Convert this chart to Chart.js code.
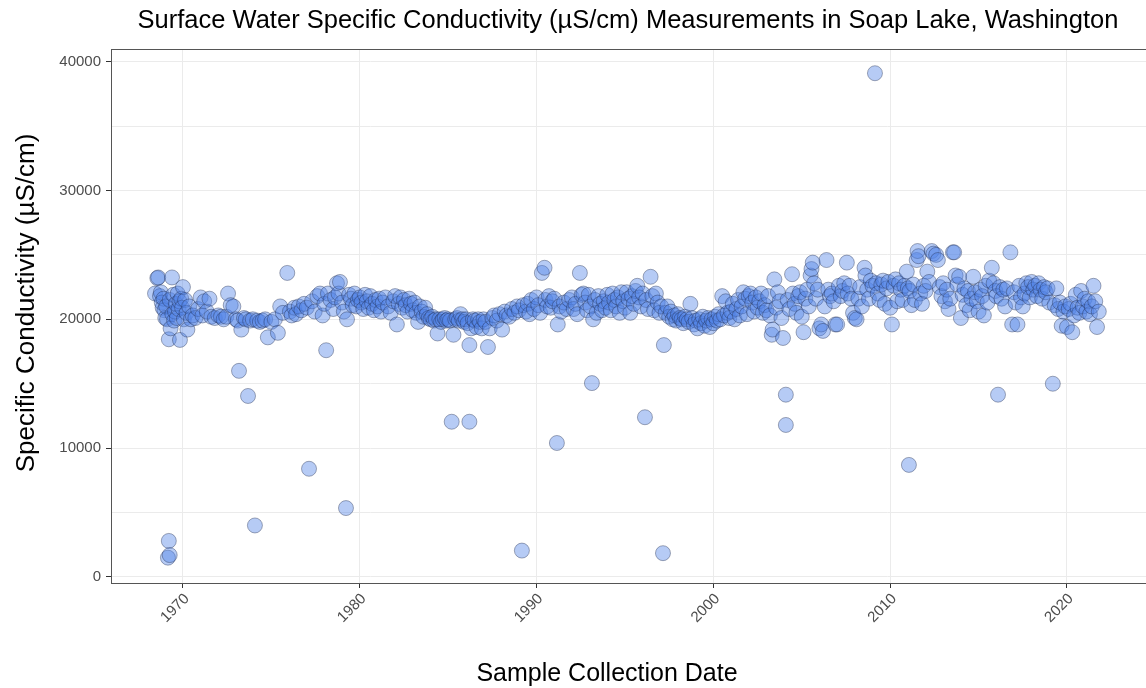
<!DOCTYPE html>
<html>
<head>
<meta charset="utf-8">
<script src="https://cdn.jsdelivr.net/npm/chart.js@4.4.1/dist/chart.umd.min.js"></script>
<style>
  html, body { margin: 0; padding: 0; background: #fff; }
  #wrap { width: 1146px; height: 688px; }
</style>
</head>
<body>
<div id="wrap"><canvas id="chart" width="1146" height="688"></canvas></div>
<script>
'use strict';

const TITLE   = 'Surface Water Specific Conductivity (µS/cm) Measurements in Soap Lake, Washington';
const X_TITLE = 'Sample Collection Date';
const Y_TITLE = 'Specific Conductivity (µS/cm)';

const X_TICKS = [1970, 1980, 1990, 2000, 2010, 2020];
const Y_TICKS = [0, 5000, 10000, 15000, 20000, 25000, 30000, 35000, 40000];

/* ── sample dates (decimal year) and conductivity, one pair of lists per decade ── */
const years1960s = [1968.42, 1968.55, 1968.60, 1968.70, 1968.75, 1968.80, 1968.85, 1968.90, 1968.95, 1969.00,
  1969.05, 1969.10, 1969.15, 1969.20, 1969.20, 1969.25, 1969.25, 1969.30, 1969.38, 1969.40,
  1969.45, 1969.50, 1969.55, 1969.60, 1969.65, 1969.70, 1969.75, 1969.80, 1969.83, 1969.90, 1969.95];
const cond1960s  = [22000, 23200, 23250, 21800, 22100, 21300, 20900, 21600, 20700, 20100,
  21000, 20000, 1500, 2800, 18450, 1700, 21500, 19300, 23250, 20400,
  21900, 19900, 20600, 21200, 20100, 22000, 20800, 21400, 18400, 21600, 20900];

const years1970s = [1970.00, 1970.05, 1970.12, 1970.20, 1970.25, 1970.35, 1970.45, 1970.55, 1970.70, 1970.85,
  1971.00, 1971.10, 1971.20, 1971.35, 1971.50, 1971.60, 1971.80, 1972.00, 1972.15, 1972.30,
  1972.45, 1972.55, 1972.70, 1972.85, 1973.00, 1973.10, 1973.17, 1973.30, 1973.45, 1973.55,
  1973.68, 1973.80, 1973.95, 1974.07, 1974.20, 1974.35, 1974.50, 1974.65, 1974.80, 1975.00,
  1975.20, 1975.37, 1975.50, 1975.65, 1975.90, 1976.05, 1976.15, 1976.30, 1976.40, 1976.55,
  1976.70, 1976.85, 1977.00, 1977.13, 1977.30, 1977.45, 1977.60, 1977.75, 1977.90, 1978.00,
  1978.10, 1978.20, 1978.35, 1978.50, 1978.60, 1978.71, 1978.80, 1978.88, 1979.00, 1979.10,
  1979.22, 1979.28, 1979.40, 1979.50, 1979.60, 1979.70, 1979.80, 1979.90];
const cond1970s  = [22500, 20000, 21500, 20500, 19200, 21000, 20000, 20300, 20100, 20800,
  21700, 20300, 21400, 20600, 21600, 20200, 20100, 20300, 20200, 20000,
  20200, 22000, 21100, 21000, 20000, 19900, 16000, 19200, 20100, 20000,
  14050, 19900, 20000, 4000, 19900, 19800, 19900, 20000, 18600, 19800,
  20000, 18950, 21000, 20500, 23600, 20600, 20300, 20900, 20400, 21000,
  20700, 21200, 20900, 8400, 21400, 20600, 21800, 22000, 20300, 21200,
  17600, 22000, 21500, 20800, 21700, 22800, 22000, 22900, 21300, 20600,
  5350, 20000, 21900, 21600, 21100, 22000, 21000, 21500];

const years1980s = [1980.00, 1980.10, 1980.20, 1980.30, 1980.40, 1980.50, 1980.60, 1980.70, 1980.80, 1980.90,
  1981.00, 1981.10, 1981.20, 1981.30, 1981.45, 1981.60, 1981.75, 1981.90, 1982.00, 1982.10,
  1982.20, 1982.30, 1982.40, 1982.50, 1982.60, 1982.70, 1982.80, 1982.90, 1983.00, 1983.10,
  1983.20, 1983.30, 1983.40, 1983.50, 1983.60, 1983.70, 1983.80, 1983.90, 1984.00, 1984.10,
  1984.20, 1984.30, 1984.40, 1984.50, 1984.60, 1984.70, 1984.80, 1984.90, 1985.00, 1985.10,
  1985.20, 1985.30, 1985.40, 1985.50, 1985.60, 1985.70, 1985.80, 1985.90, 1986.00, 1986.10,
  1986.20, 1986.20, 1986.30, 1986.40, 1986.50, 1986.60, 1986.70, 1986.80, 1986.90, 1987.00,
  1987.10, 1987.25, 1987.35, 1987.50, 1987.60, 1987.75, 1987.90, 1988.05, 1988.20, 1988.30,
  1988.45, 1988.60, 1988.75, 1988.90, 1989.00, 1989.17, 1989.25, 1989.40, 1989.50, 1989.60,
  1989.70, 1989.85];
const cond1980s  = [21700, 21300, 20800, 21900, 21400, 20900, 21800, 21200, 20700, 21500,
  21000, 21600, 20600, 21300, 21700, 21000, 20500, 21400, 21800, 19600,
  21200, 21700, 20900, 21500, 21100, 20600, 21600, 21200, 20700, 21300,
  20500, 19800, 21000, 20600, 20200, 20900, 20400, 20100, 20000, 20200,
  19900, 20000, 18900, 20000, 19800, 20000, 20100, 19900, 20000, 19900,
  12050, 18800, 20000, 20100, 19900, 20400, 20000, 19800, 20000, 19700,
  18000, 12050, 19300, 20000, 19900, 19400, 20000, 19800, 19300, 20000,
  19800, 17850, 19300, 20100, 20300, 19900, 20400, 19200, 20600, 20300,
  20200, 20800, 20500, 21000, 20700, 2050, 21100, 20600, 21200, 20400,
  21500, 20800];

const years1990s = [1990.00, 1990.10, 1990.20, 1990.30, 1990.45, 1990.50, 1990.60, 1990.70, 1990.80, 1990.90,
  1991.00, 1991.15, 1991.20, 1991.30, 1991.40, 1991.55, 1991.70, 1991.85, 1992.00, 1992.10,
  1992.20, 1992.30, 1992.45, 1992.55, 1992.65, 1992.75, 1992.85, 1992.95, 1993.05, 1993.13,
  1993.20, 1993.30, 1993.40, 1993.50, 1993.60, 1993.70, 1993.80, 1993.90, 1994.00, 1994.10,
  1994.20, 1994.30, 1994.40, 1994.50, 1994.60, 1994.70, 1994.80, 1994.90, 1995.00, 1995.10,
  1995.20, 1995.30, 1995.40, 1995.50, 1995.60, 1995.70, 1995.80, 1995.90, 1996.00, 1996.13,
  1996.20, 1996.30, 1996.45, 1996.55, 1996.65, 1996.75, 1996.85, 1996.95, 1997.05, 1997.15,
  1997.20, 1997.30, 1997.40, 1997.50, 1997.60, 1997.70, 1997.80, 1997.90, 1998.00, 1998.10,
  1998.20, 1998.30, 1998.40, 1998.50, 1998.60, 1998.70, 1998.80, 1998.90, 1999.00, 1999.10,
  1999.20, 1999.30, 1999.40, 1999.50, 1999.60, 1999.70, 1999.80, 1999.90];
const cond1990s  = [21700, 21100, 20500, 23600, 24000, 21500, 21000, 21800, 20900, 21400,
  21600, 10400, 19600, 21000, 20600, 21300, 20800, 21500, 21700, 20800,
  21200, 20400, 23600, 21900, 22000, 21300, 20700, 21900, 21000, 15050,
  20000, 21500, 20500, 21800, 21200, 20700, 21400, 20900, 21900, 21300,
  20700, 22000, 21500, 21000, 21700, 20500, 22100, 21400, 20900, 22100,
  21600, 20500, 21800, 21200, 22200, 22600, 21700, 21000, 22000, 12400,
  21500, 20800, 23300, 21800, 20700, 22000, 21300, 20500, 21000, 1850,
  18000, 20500, 21000, 20200, 20600, 20000, 20300, 19900, 20400, 20100,
  20000, 19700, 20200, 20000, 19800, 21200, 20100, 19600, 19900, 19300,
  20000, 19700, 20200, 19500, 19900, 20100, 19400, 20000];

const years2000s = [2000.00, 2000.10, 2000.20, 2000.30, 2000.40, 2000.50, 2000.60, 2000.70, 2000.80, 2000.90,
  2001.00, 2001.10, 2001.20, 2001.30, 2001.40, 2001.50, 2001.60, 2001.70, 2001.80, 2001.90,
  2002.00, 2002.10, 2002.20, 2002.30, 2002.40, 2002.50, 2002.60, 2002.70, 2002.80, 2002.90,
  2003.00, 2003.10, 2003.20, 2003.30, 2003.35, 2003.45, 2003.55, 2003.65, 2003.75, 2003.85,
  2003.94, 2004.10, 2004.10, 2004.20, 2004.30, 2004.45, 2004.50, 2004.60, 2004.70, 2004.80,
  2004.90, 2005.00, 2005.10, 2005.20, 2005.30, 2005.40, 2005.50, 2005.55, 2005.62, 2005.70,
  2005.80, 2005.90, 2006.00, 2006.10, 2006.20, 2006.30, 2006.40, 2006.50, 2006.60, 2006.70,
  2006.80, 2006.90, 2007.00, 2007.10, 2007.20, 2007.30, 2007.40, 2007.55, 2007.60, 2007.70,
  2007.80, 2007.90, 2008.00, 2008.10, 2008.20, 2008.30, 2008.40, 2008.55, 2008.60, 2008.70,
  2008.80, 2008.90, 2009.00, 2009.14, 2009.20, 2009.30, 2009.40, 2009.50, 2009.60, 2009.70,
  2009.80, 2009.90];
const cond2000s  = [19700, 20200, 19900, 20400, 20000, 21800, 20300, 21400, 20500, 20100,
  20600, 21200, 20000, 20800, 21500, 20300, 21000, 22100, 21600, 20400,
  21800, 22000, 21300, 20600, 21700, 20900, 21400, 22000, 20500, 21100,
  20700, 21800, 20300, 18800, 19200, 23100, 20900, 22100, 21400, 20100,
  18550, 14150, 11800, 21500, 20800, 23500, 22000, 21200, 20500, 21800,
  22100, 20200, 19000, 21600, 22300, 21000, 23400, 23900, 24400, 22800,
  21600, 22300, 19300, 19600, 19100, 21000, 24600, 22300, 21800, 22000,
  21400, 19600, 19600, 22600, 21800, 22200, 22800, 24400, 22000, 22600,
  21600, 20500, 20100, 20000, 21600, 22500, 21000, 24000, 23400, 22300,
  21600, 23000, 22600, 39100, 22800, 22000, 21500, 22700, 23000, 21200,
  22400, 22900];

const years2010s = [2010.00, 2010.10, 2010.20, 2010.30, 2010.40, 2010.50, 2010.60, 2010.70, 2010.80, 2010.94,
  2011.00, 2011.06, 2011.10, 2011.20, 2011.30, 2011.40, 2011.50, 2011.55, 2011.60, 2011.70,
  2011.80, 2011.90, 2012.00, 2012.10, 2012.20, 2012.35, 2012.45, 2012.60, 2012.70, 2012.80,
  2012.90, 2013.00, 2013.10, 2013.20, 2013.30, 2013.40, 2013.55, 2013.62, 2013.70, 2013.80,
  2013.90, 2014.00, 2014.10, 2014.20, 2014.30, 2014.40, 2014.50, 2014.60, 2014.70, 2014.80,
  2014.90, 2015.00, 2015.10, 2015.20, 2015.30, 2015.40, 2015.50, 2015.60, 2015.75, 2015.85,
  2015.95, 2016.00, 2016.10, 2016.20, 2016.30, 2016.40, 2016.50, 2016.60, 2016.80, 2016.90,
  2017.00, 2017.10, 2017.20, 2017.30, 2017.40, 2017.50, 2017.60, 2017.70, 2017.80, 2017.90,
  2018.00, 2018.10, 2018.20, 2018.30, 2018.40, 2018.50, 2018.60, 2018.70, 2018.80, 2018.90,
  2019.00, 2019.20, 2019.30, 2019.40, 2019.50, 2019.60, 2019.70, 2019.80, 2019.90];
const cond2010s  = [20900, 19600, 22600, 23100, 21400, 22800, 22300, 21500, 22600, 23700,
  22400, 8700, 22200, 21100, 22700, 21500, 24600, 25300, 24900, 22000,
  21200, 22600, 22200, 23700, 22900, 25300, 25100, 25000, 24600, 22500,
  21800, 22800, 21400, 22300, 20800, 21600, 25200, 25200, 23400, 22700,
  23300, 20100, 21900, 22400, 21100, 22200, 20700, 21600, 23300, 22100,
  21400, 20600, 22300, 21800, 20300, 22600, 21300, 23000, 24000, 22800,
  22200, 21800, 14150, 22500, 21600, 22300, 21000, 22400, 25200, 19600,
  22100, 21300, 19600, 22600, 21700, 21000, 22000, 22800, 22500, 21700,
  22900, 22300, 22600, 21800, 22800, 22300, 21600, 22500, 22100, 22400,
  21300, 15000, 21100, 22400, 20800, 21300, 19500, 20600, 21000];

const years2020s = [2020.00, 2020.10, 2020.20, 2020.30, 2020.40, 2020.50, 2020.60, 2020.70, 2020.80, 2020.90,
  2021.00, 2021.10, 2021.20, 2021.30, 2021.40, 2021.50, 2021.60, 2021.70, 2021.80];
const cond2020s  = [19400, 20800, 21200, 19000, 20300, 21900, 20900, 20500, 22200, 21000,
  21600, 20600, 21400, 20400, 21000, 22600, 21400, 19400, 20600];

const allYears = [].concat(years1960s, years1970s, years1980s, years1990s, years2000s, years2010s, years2020s);
const allCond  = [].concat(cond1960s, cond1970s, cond1980s, cond1990s, cond2000s, cond2010s, cond2020s);
const points = allYears.map((yr, i) => ({ x: yr, y: allCond[i] }));

const FONT = '"Liberation Sans", Arial, sans-serif';

/* ── panel frame (ggplot-style border) ── */
const panelFrame = {
  id: 'panelFrame',
  afterDatasetsDraw(chart) {
    const { ctx, chartArea: a } = chart;
    ctx.save();
    ctx.strokeStyle = '#555555';
    ctx.lineWidth = 1;
    ctx.strokeRect(Math.round(a.left) + 0.5, Math.round(a.top) + 0.5,
      Math.round(a.right - a.left), Math.round(a.bottom - a.top));
    ctx.restore();
  }
};

/* ── titles placed like the original ── */
const titles = {
  id: 'titles',
  afterDraw(chart) {
    const ctx = chart.ctx;
    ctx.save();
    ctx.fillStyle = '#000000';
    ctx.textAlign = 'center';
    ctx.textBaseline = 'alphabetic';
    ctx.font = '25.5px ' + FONT;
    ctx.fillText(TITLE, 628, 28);
    ctx.font = '25px ' + FONT;
    ctx.fillText(X_TITLE, 607, 681);
    ctx.font = '26px ' + FONT;
    ctx.translate(34, 303);
    ctx.rotate(-Math.PI / 2);
    ctx.fillText(Y_TITLE, 0, 0);
    ctx.restore();
  }
};

new Chart(document.getElementById('chart'), {
  type: 'scatter',
  data: {
    datasets: [{
      data: points,
      backgroundColor: 'rgba(80,130,230,0.42)',
      borderColor: 'rgba(30,40,70,0.55)',
      borderWidth: 0.7,
      pointRadius: 7.5,
      pointHoverRadius: 7.5,
    }],
  },
  options: {
    responsive: false,
    animation: false,
    events: [],
    layout: { autoPadding: false, padding: { top: 49, right: 0, left: 0, bottom: 0 } },
    plugins: { legend: { display: false }, tooltip: { enabled: false }, title: { display: false } },
    scales: {
      x: {
        type: 'linear',
        min: 1965.93,
        max: 2024.47,
        afterBuildTicks: s => { s.ticks = X_TICKS.map(v => ({ value: v })); },
        afterFit: s => { s.height = 105; s.paddingLeft = 0; s.paddingRight = 0; },
        grid: { color: '#ebebeb', lineWidth: 1, tickColor: '#333333', tickLength: 5 },
        border: { display: true, color: '#555555', width: 1 },
        ticks: {
          autoSkip: false, minRotation: 45, maxRotation: 45, padding: 2, labelOffset: 4,
          color: '#4d4d4d', font: { family: FONT, size: 15 },
          callback: v => String(v),
        },
      },
      y: {
        type: 'linear',
        min: -466,
        max: 40980,
        afterBuildTicks: s => { s.ticks = Y_TICKS.map(v => ({ value: v })); },
        afterFit: s => { s.width = 111; },
        grid: {
          color: '#ebebeb', lineWidth: 1, tickLength: 5,
          tickColor: c => (c.tick && c.tick.value % 10000 === 0) ? '#333333' : 'rgba(0,0,0,0)',
        },
        border: { display: true, color: '#555555', width: 1 },
        ticks: {
          padding: 5, color: '#4d4d4d', font: { family: FONT, size: 15 },
          callback: v => (v % 10000 === 0 ? String(v) : ''),
        },
      },
    },
  },
  plugins: [panelFrame, titles],
});
</script>
</body>
</html>
